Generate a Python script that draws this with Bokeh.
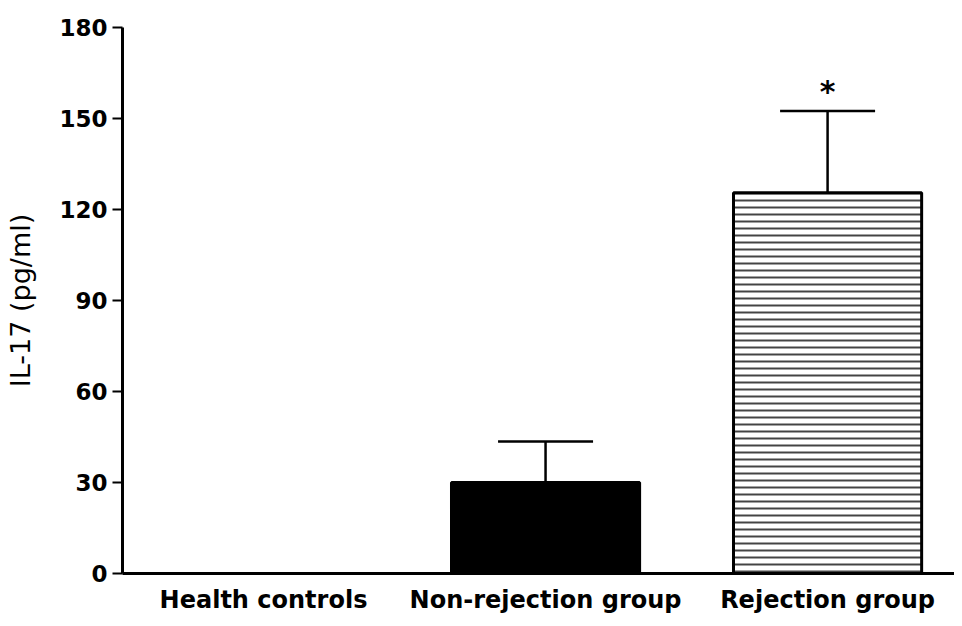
from bokeh.plotting import figure
from bokeh.models import Range1d, FixedTicker, Whisker, TeeHead, ColumnDataSource
from bokeh.core.properties import value
from bokeh.embed import file_html
from bokeh.resources import INLINE

# Data
categories = ["Health controls", "Non-rejection group", "Rejection group"]
means = [0.0, 30.0, 125.5]
errors = [0.0, 13.5, 27.0]
y_ticks = [0, 30, 60, 90, 120, 150, 180]
significance = ["", "", "*"]

xs = list(range(len(categories)))
upper = [m + e for m, e in zip(means, errors)]

p = figure(width=954, height=618, output_backend="svg", toolbar_location=None,
           x_range=Range1d(-0.5, 2.45), y_range=Range1d(0, 180),
           min_border_left=122, min_border_right=0, min_border_top=27, min_border_bottom=45)
p.outline_line_color = None
p.xgrid.visible = False
p.ygrid.visible = False

src_solid = ColumnDataSource(dict(x=[xs[1]], top=[means[1]]))
src_hatch = ColumnDataSource(dict(x=[xs[2]], top=[means[2]]))

# error bars (upper only)
err_src = ColumnDataSource(dict(x=[xs[1], xs[2]], lower=[means[1], means[2]], upper=[upper[1], upper[2]]))
w = Whisker(source=err_src, base="x", lower="lower", upper="upper", dimension="height",
            line_width=2.5, line_color="black",
            upper_head=TeeHead(size=95, line_width=2.5, line_color="black"),
            lower_head=None, level="underlay")
p.add_layout(w)

p.vbar(x=[xs[0]], top=[means[0]], width=0.667, fill_color="white", line_color="black", line_width=3)
p.vbar(x="x", top="top", width=0.667, source=src_solid, fill_color="black", line_color="black", line_width=3)
p.vbar(x="x", top="top", width=0.667, source=src_hatch, fill_color="white", line_color="black", line_width=3,
       hatch_pattern="horizontal_line", hatch_scale=7, hatch_weight=2, hatch_color="#444444")

# significance marker
p.text(x=[xs[2]], y=[upper[2]], text=[significance[2]], text_align="center", text_baseline="bottom",
       y_offset=-2, text_font=value("DejaVu Sans"), text_font_style="bold", text_font_size="30px",
       text_color="black")

# x axis
p.xaxis.ticker = FixedTicker(ticks=xs)
p.xaxis.major_label_overrides = {i: c for i, c in zip(xs, categories)}
p.xaxis.major_tick_line_color = None
p.xaxis.minor_tick_line_color = None
p.xaxis.axis_line_width = 3
p.xaxis.axis_line_color = "black"
p.xaxis.major_label_text_font = "DejaVu Sans"
p.xaxis.major_label_text_font_style = "bold"
p.xaxis.major_label_text_font_size = "24px"
p.xaxis.major_label_text_color = "black"
p.xaxis.major_label_standoff = 6

# y axis
p.yaxis.ticker = FixedTicker(ticks=y_ticks)
p.yaxis.minor_tick_line_color = None
p.yaxis.axis_line_width = 3
p.yaxis.axis_line_color = "black"
p.yaxis.major_tick_line_width = 2
p.yaxis.major_tick_line_color = "black"
p.yaxis.major_tick_out = 10
p.yaxis.major_tick_in = 0
p.yaxis.major_label_standoff = 5
p.yaxis.major_label_text_font = "DejaVu Sans"
p.yaxis.major_label_text_font_style = "bold"
p.yaxis.major_label_text_font_size = "23px"
p.yaxis.major_label_text_color = "black"
p.yaxis.axis_label = "IL-17 (pg/ml)"
p.yaxis.axis_label_text_font = "DejaVu Sans"
p.yaxis.axis_label_text_font_style = "normal"
p.yaxis.axis_label_text_font_size = "27px"
p.yaxis.axis_label_text_color = "black"
p.yaxis.axis_label_standoff = 20

open("out.html", "w").write(file_html(p, INLINE))
